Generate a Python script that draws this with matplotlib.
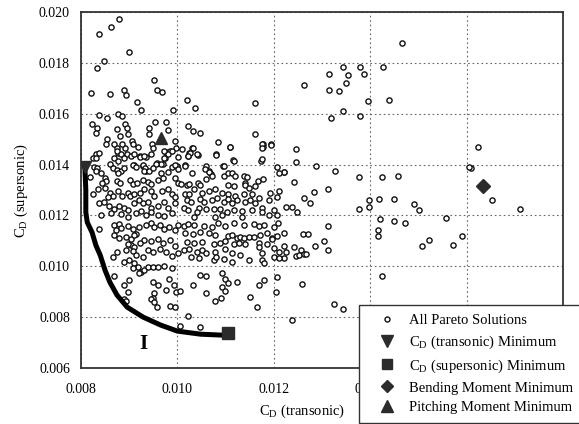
import numpy as np
from matplotlib import pyplot as plt
from matplotlib.lines import Line2D

plt.rcParams.update({
    "font.family": "serif",
    "font.serif": ["Liberation Serif", "DejaVu Serif"],
    "mathtext.fontset": "custom",
    "mathtext.rm": "Liberation Serif",
    "font.size": 10,
})

# drag coefficients in drag counts (1 count = 0.0001): (CD transonic, CD supersonic)
pareto_top = [
    (83.8, 191.3), (86.3, 194.1), (87.9, 197.2), (90.0, 184.3), (84.8, 180.7), (83.3, 178.0),
    (82.1, 168.2), (86.0, 167.8), (89.0, 169.4), (89.4, 167.4), (91.7, 164.7), (92.5, 161.5),
    (95.2, 173.3), (95.8, 169.4), (96.9, 168.6), (99.1, 161.5), (101.9, 165.4), (103.7, 162.3),
    (116.0, 164.3), (116.2, 152.1), (117.7, 148.2), (119.4, 148.2), (117.7, 147.0), (117.3, 141.5),
    (120.6, 139.2), (122.1, 137.2), (108.5, 149.0), (111.0, 147.0), (108.1, 144.3), (111.5, 141.9),
    (102.3, 155.3), (103.3, 153.3), (104.6, 152.5), (101.0, 146.2), (103.1, 146.6), (102.5, 144.7),
    (102.1, 143.5), (104.2, 143.9), (87.7, 160.0), (88.5, 159.2), (83.8, 159.6), (85.4, 158.4),
    (82.3, 156.0), (83.3, 154.5), (83.1, 152.5), (85.4, 150.2), (85.2, 148.2), (87.5, 154.1),
    (89.2, 156.0), (89.6, 154.5), (89.8, 152.1), (90.6, 149.4), (90.8, 148.2), (91.9, 147.0),
    (89.2, 146.6), (87.5, 146.6), (87.7, 144.7), (89.6, 144.3), (92.3, 143.5), (93.5, 143.1),
    (94.2, 154.5), (95.4, 156.8), (97.7, 156.8), (98.1, 153.7), (94.8, 148.2), (95.0, 146.6),
    (97.7, 145.1), (98.5, 145.5), (99.4, 149.4), (97.5, 142.7), (95.8, 140.8), (97.1, 140.4),
    (91.0, 140.0), (92.9, 139.6), (93.5, 137.6), (100.0, 139.6), (101.5, 140.0), (106.0, 139.6),
    (106.5, 137.6), (106.9, 136.4), (109.4, 139.6), (103.1, 136.8), (88.1, 151.4), (94.2, 152.2),
    (86.9, 148.2), (88.5, 148.2), (99.8, 146.7),
]

pareto_right = [
    (146.5, 187.8), (134.4, 178.4), (137.9, 178.4), (142.7, 178.4), (131.5, 175.7), (135.4, 175.3),
    (138.8, 175.7), (126.3, 171.4), (135.0, 172.2), (131.5, 169.4), (133.5, 169.0), (139.6, 165.1),
    (143.8, 165.5), (134.4, 161.2), (131.9, 158.4), (137.9, 159.2), (162.3, 147.1), (124.6, 146.3),
    (124.6, 141.2), (128.8, 139.6), (132.7, 137.3), (137.7, 135.3), (142.5, 135.3), (145.8, 135.7),
    (161.0, 138.8), (160.6, 139.0), (124.2, 133.3), (128.3, 129.4), (131.3, 130.2), (126.3, 126.7),
    (127.5, 124.7), (165.2, 125.9), (139.8, 125.9), (141.9, 126.3), (145.0, 126.3), (149.0, 124.3),
    (171.0, 122.4), (150.2, 122.0), (139.8, 123.5), (137.7, 122.4), (142.1, 118.4), (145.0, 118.0),
    (147.3, 116.9), (155.8, 118.8), (131.3, 115.7), (141.7, 114.1), (141.7, 111.8), (126.0, 112.5),
    (127.1, 112.5), (130.4, 109.8), (152.1, 110.2), (150.8, 107.8), (159.0, 111.8), (157.1, 108.2),
    (124.2, 107.5), (125.6, 106.3), (128.5, 107.8), (131.3, 106.3), (124.6, 103.9), (125.2, 104.3),
    (126.3, 104.7), (126.7, 104.7), (142.5, 96.1), (125.8, 92.9), (132.5, 85.1), (134.4, 83.1),
    (123.8, 78.8), (122.1, 136.9), (122.5, 123.5), (123.8, 123.5), (124.8, 121.2), (122.1, 112.9),
    (122.1, 107.8), (122.5, 105.5), (122.1, 103.1),
]

pareto_core_left = [
    (83.1, 144.3), (83.8, 144.7), (82.5, 142.7), (83.1, 142.7), (87.5, 145.5), (88.3, 144.3),
    (86.9, 142.4), (87.7, 141.6), (89.0, 142.7), (90.4, 143.5), (91.0, 144.3), (92.3, 143.1),
    (93.1, 143.5), (94.6, 144.3), (97.3, 145.5), (98.1, 144.3), (98.8, 145.5), (97.3, 142.4),
    (96.7, 140.4), (95.6, 140.4), (100.2, 143.1),
    (82.7, 139.2), (83.3, 138.8), (83.1, 137.6), (86.0, 140.4), (86.7, 138.8), (87.5, 138.0),
    (88.3, 137.6), (87.7, 136.5), (89.0, 138.8), (90.8, 140.0), (91.5, 139.2), (92.9, 140.0),
    (93.3, 138.8), (93.1, 137.6), (94.2, 137.6), (95.0, 138.8), (98.8, 139.2), (99.6, 140.0),
    (100.2, 138.4),
    (81.9, 135.3), (84.2, 136.5), (85.0, 134.9), (85.2, 133.7), (84.4, 132.9), (87.5, 133.7),
    (88.1, 132.9), (90.2, 134.1), (90.8, 132.5), (91.7, 132.9), (92.9, 134.1), (94.0, 133.3),
    (94.6, 132.5), (96.0, 134.1), (96.5, 136.5), (97.1, 134.9), (98.1, 136.9), (99.4, 134.9),
    (100.2, 132.9),
    (82.5, 128.6), (83.5, 130.2), (85.0, 130.6), (86.0, 129.0), (86.7, 127.8), (85.6, 127.1),
    (87.7, 129.8), (88.5, 127.8), (89.8, 129.0), (90.2, 127.5), (91.0, 128.6), (92.3, 129.0),
    (93.1, 130.2), (94.6, 129.8), (95.2, 127.8), (96.9, 129.8), (98.1, 130.2), (98.8, 128.6),
    (99.6, 127.1),
    (83.8, 124.7), (84.8, 125.1), (85.8, 123.9), (86.9, 122.7), (87.9, 123.9), (89.0, 123.1),
    (89.8, 122.0), (91.0, 124.7), (92.1, 125.9), (92.9, 124.7), (94.0, 125.1), (94.6, 123.1),
    (96.0, 123.9), (97.3, 125.1), (98.1, 123.1), (99.4, 124.7),
    (84.2, 120.0), (86.3, 120.8), (88.3, 120.4), (89.8, 119.2), (91.5, 120.8), (92.5, 121.6),
    (93.5, 120.0), (94.6, 121.2), (96.0, 120.0), (97.3, 119.6), (98.8, 120.8),
]

pareto_core_right = [
    (103.3, 146.7), (102.7, 144.7), (102.3, 143.5), (104.0, 144.3), (108.1, 143.9), (111.0, 147.1),
    (117.5, 148.2), (117.5, 146.7), (119.4, 147.8), (117.5, 142.0), (109.6, 139.6), (111.7, 141.6),
    (101.5, 139.6),
    (105.8, 138.4), (106.5, 136.9), (107.1, 135.7), (106.0, 134.5), (109.6, 135.7), (110.6, 136.5),
    (111.3, 136.5), (111.9, 135.7), (113.8, 135.7), (114.4, 135.3), (116.7, 133.7), (117.7, 134.5),
    (121.0, 136.5),
    (110.6, 131.8), (111.7, 131.4), (114.0, 132.9), (114.0, 131.8), (114.8, 130.6), (116.0, 131.4),
    (119.2, 129.0), (121.0, 129.8),
    (100.8, 132.5), (101.9, 131.8), (102.5, 132.5), (104.2, 132.9), (104.6, 131.8), (103.5, 130.2),
    (101.5, 128.6), (102.5, 128.6), (105.0, 129.0), (106.5, 129.8), (107.7, 130.2), (109.2, 129.0),
    (110.6, 128.6), (111.9, 127.8), (113.8, 128.6), (115.4, 128.6), (116.9, 126.7), (119.0, 125.9),
    (120.6, 127.1),
    (101.9, 125.9), (102.9, 125.1), (104.6, 126.3), (105.6, 125.1), (107.1, 125.9), (108.3, 126.7),
    (109.6, 125.1), (110.6, 126.3), (111.3, 124.7), (112.3, 125.9), (114.0, 125.1), (115.0, 125.9),
    (116.0, 124.7), (117.5, 123.1),
    (101.3, 123.1), (102.3, 122.0), (104.4, 123.1), (104.0, 121.2), (106.0, 122.7), (107.5, 122.7),
    (108.8, 122.7), (110.2, 121.2), (111.7, 122.0), (113.3, 121.6), (115.4, 122.0), (117.5, 121.2),
    (119.0, 120.0), (120.0, 122.0), (120.6, 120.0),
    (103.5, 119.2), (107.7, 119.2), (109.2, 120.0), (113.3, 119.2),
]

pareto_lower_left = [
    (83.8, 114.5), (86.9, 116.1), (87.9, 116.5), (87.3, 114.1), (88.3, 114.9), (89.8, 115.7),
    (90.8, 114.5), (91.5, 112.5), (92.1, 115.3), (93.5, 116.1), (94.6, 116.9), (95.2, 115.3),
    (96.3, 116.1), (97.3, 114.5), (98.3, 115.3), (99.4, 114.1), (100.2, 116.1),
    (86.9, 112.2), (87.9, 111.0), (89.4, 111.4), (90.4, 110.6), (91.0, 112.2), (93.1, 110.2),
    (94.6, 109.8), (96.0, 110.6), (97.1, 109.0), (98.5, 110.2), (99.4, 107.8), (90.4, 108.2),
    (89.8, 108.6), (91.0, 107.5), (92.3, 109.0),
    (87.5, 105.5), (89.4, 106.3), (90.8, 105.9), (91.5, 104.3), (92.9, 103.5), (94.0, 106.3),
    (95.0, 105.5), (96.3, 106.7), (97.7, 105.5), (98.8, 103.9), (100.2, 105.1), (86.7, 103.5),
    (89.0, 101.6), (90.0, 102.4), (91.0, 101.2), (91.9, 99.6), (92.5, 97.6), (93.1, 98.4),
    (92.1, 97.3), (94.0, 99.6), (95.0, 99.6), (96.0, 99.6), (97.3, 100.0), (98.8, 99.2),
    (90.8, 99.2),
    (86.9, 96.1), (90.0, 94.5), (89.0, 92.5), (95.0, 93.7), (96.0, 92.5), (98.3, 94.9),
    (99.2, 92.5), (97.7, 90.6), (99.8, 89.8), (95.2, 89.4), (89.8, 89.8), (95.0, 87.5),
    (89.0, 87.1),
]

pareto_lower_right = [
    (101.3, 115.7), (102.3, 116.5), (103.5, 116.1), (105.6, 115.7), (107.1, 115.3), (108.5, 116.9),
    (109.8, 115.7), (111.7, 116.9), (113.8, 116.1), (115.8, 116.5), (116.9, 115.7), (117.9, 116.1),
    (120.0, 115.3), (120.8, 116.9),
    (101.5, 112.9), (103.3, 112.5), (104.6, 113.3), (106.5, 112.9), (107.7, 112.2), (110.6, 111.8),
    (111.3, 112.2), (112.3, 111.0), (112.9, 111.4), (113.8, 111.0), (114.8, 111.4), (115.8, 111.4),
    (117.1, 112.2), (118.5, 112.9), (119.6, 111.0), (120.6, 111.8),
    (101.9, 109.4), (103.5, 109.0), (105.0, 109.4), (107.5, 108.6), (108.8, 109.0), (109.8, 109.8),
    (111.7, 108.6), (112.7, 109.0), (114.0, 108.6), (116.9, 109.0), (118.5, 108.6), (119.6, 110.6),
    (101.3, 106.3), (102.5, 106.7), (104.0, 105.5), (105.0, 106.3), (106.0, 105.1), (107.7, 105.5),
    (109.8, 106.7), (111.3, 105.1), (112.9, 104.3), (116.9, 107.5), (117.5, 105.1), (120.0, 107.1),
    (121.0, 105.5),
    (102.9, 103.5), (104.4, 103.1), (107.5, 102.4), (108.1, 103.5), (109.6, 102.7), (111.3, 101.6),
    (114.8, 102.4), (117.5, 102.4), (117.9, 101.2), (120.0, 103.5), (121.0, 103.1),
    (104.6, 96.5), (106.0, 96.1), (109.2, 97.3), (109.8, 94.9), (110.6, 93.3), (103.3, 92.5),
    (109.2, 91.8), (109.8, 90.2), (112.3, 93.7), (116.9, 92.5), (117.9, 94.5), (120.6, 95.7),
    (120.4, 89.8), (106.0, 89.4), (115.0, 87.8), (109.0, 87.5),
]

pareto_bottom = [
    (94.6, 87.1), (95.2, 85.9), (95.8, 83.9), (98.5, 84.3), (99.4, 83.9), (100.6, 90.2),
    (107.7, 86.3), (116.5, 83.9), (102.1, 80.4), (100.6, 76.5), (104.6, 76.1), (89.4, 86.3),
]

# front "I" (drag counts)
front_trans = [80.8, 81.0, 81.0, 81.3, 82.3, 83.1, 84.0, 85.0, 86.0, 87.5, 89.6, 92.9, 96.5, 100.0, 104.8, 109.6, 110.6]
front_super = [139.2, 130.0, 121.2, 117.3, 113.3, 108.2, 104.3, 98.4, 93.7, 88.6, 83.9, 80.0, 76.9, 74.5, 73.3, 72.9, 73.7]

min_trans = (80.8, 139.2)
min_super = (110.6, 73.7)
min_bending = (163.5, 131.4)
min_pitching = (96.7, 150.6)

pareto = np.array(pareto_top + pareto_right + pareto_core_left + pareto_core_right
                  + pareto_lower_left + pareto_lower_right + pareto_bottom) * 1e-4

fig = plt.figure(figsize=(5.79, 4.24), dpi=100)
ax = fig.add_axes([81 / 579, 1 - 368 / 424, 482 / 579, 356 / 424])

ax.scatter(pareto[:, 0], pareto[:, 1], s=14, facecolors='white', edgecolors='#111111',
           linewidths=1.0, zorder=3)
ax.plot(np.array(front_trans) * 1e-4, np.array(front_super) * 1e-4, color='black', lw=3.6,
        solid_capstyle='round', zorder=4)

mk = dict(color='#2b2b2b', linestyle='none', zorder=5)
ax.plot(min_trans[0] * 1e-4, min_trans[1] * 1e-4, marker='v', ms=8.5, **mk)
ax.plot(min_super[0] * 1e-4, min_super[1] * 1e-4, marker='s', ms=8, **mk)
ax.plot(min_bending[0] * 1e-4, min_bending[1] * 1e-4, marker='D', ms=7, **mk)
ax.plot(min_pitching[0] * 1e-4, min_pitching[1] * 1e-4, marker='^', ms=8.5, **mk)

ax.text(0.00929, 0.00694, 'I', fontsize=15, fontweight='bold', ha='center', va='center')

ax.set_xlim(0.008, 0.018)
ax.set_ylim(0.006, 0.020)
ax.set_xticks(np.arange(0.008, 0.0181, 0.002))
ax.set_yticks(np.arange(0.006, 0.0201, 0.002))
ax.xaxis.set_major_formatter(plt.FormatStrFormatter('%.3f'))
ax.yaxis.set_major_formatter(plt.FormatStrFormatter('%.3f'))
ax.tick_params(length=0, labelsize=10)
ax.tick_params(axis='x', pad=11)
ax.tick_params(axis='y', pad=8)
ax.grid(True, linestyle=(0, (1.5, 2.5)), color='#666666', linewidth=0.8)
ax.set_axisbelow(True)
for sp in ax.spines.values():
    sp.set_color('#333333')
    sp.set_linewidth(1.3)

ax.set_xlabel(r'C$_\mathregular{D}$ (transonic)', fontsize=10.5)
ax.xaxis.set_label_coords(0.458, -0.098)
ax.set_ylabel(r'C$_\mathregular{D}$ (supersonic)', fontsize=10.5, labelpad=6)

handles = [
    Line2D([], [], marker='o', ms=3.6, mfc='white', mec='#111111', mew=1.0, ls='none'),
    Line2D([], [], marker='v', ms=8, color='#2b2b2b', ls='none'),
    Line2D([], [], marker='s', ms=7, color='#2b2b2b', ls='none'),
    Line2D([], [], marker='D', ms=6.5, color='#2b2b2b', ls='none'),
    Line2D([], [], marker='^', ms=8, color='#2b2b2b', ls='none'),
]
labels = ['All Pareto Solutions',
          r'C$_\mathregular{D}$ (transonic) Minimum',
          r'C$_\mathregular{D}$ (supersonic) Minimum',
          'Bending Moment Minimum',
          'Pitching Moment Minimum']
leg = ax.legend(handles, labels, loc='upper left', bbox_to_anchor=(359 / 579, 1 - 305 / 424),
                bbox_transform=fig.transFigure, fontsize=10.5, frameon=True, fancybox=False,
                edgecolor='#333333', framealpha=1, borderpad=0.6, labelspacing=0.45,
                handletextpad=0.25, handlelength=2.6, borderaxespad=0)
leg.get_frame().set_linewidth(1.0)
leg.set_zorder(10)

fig.savefig('out.png', dpi=100)
